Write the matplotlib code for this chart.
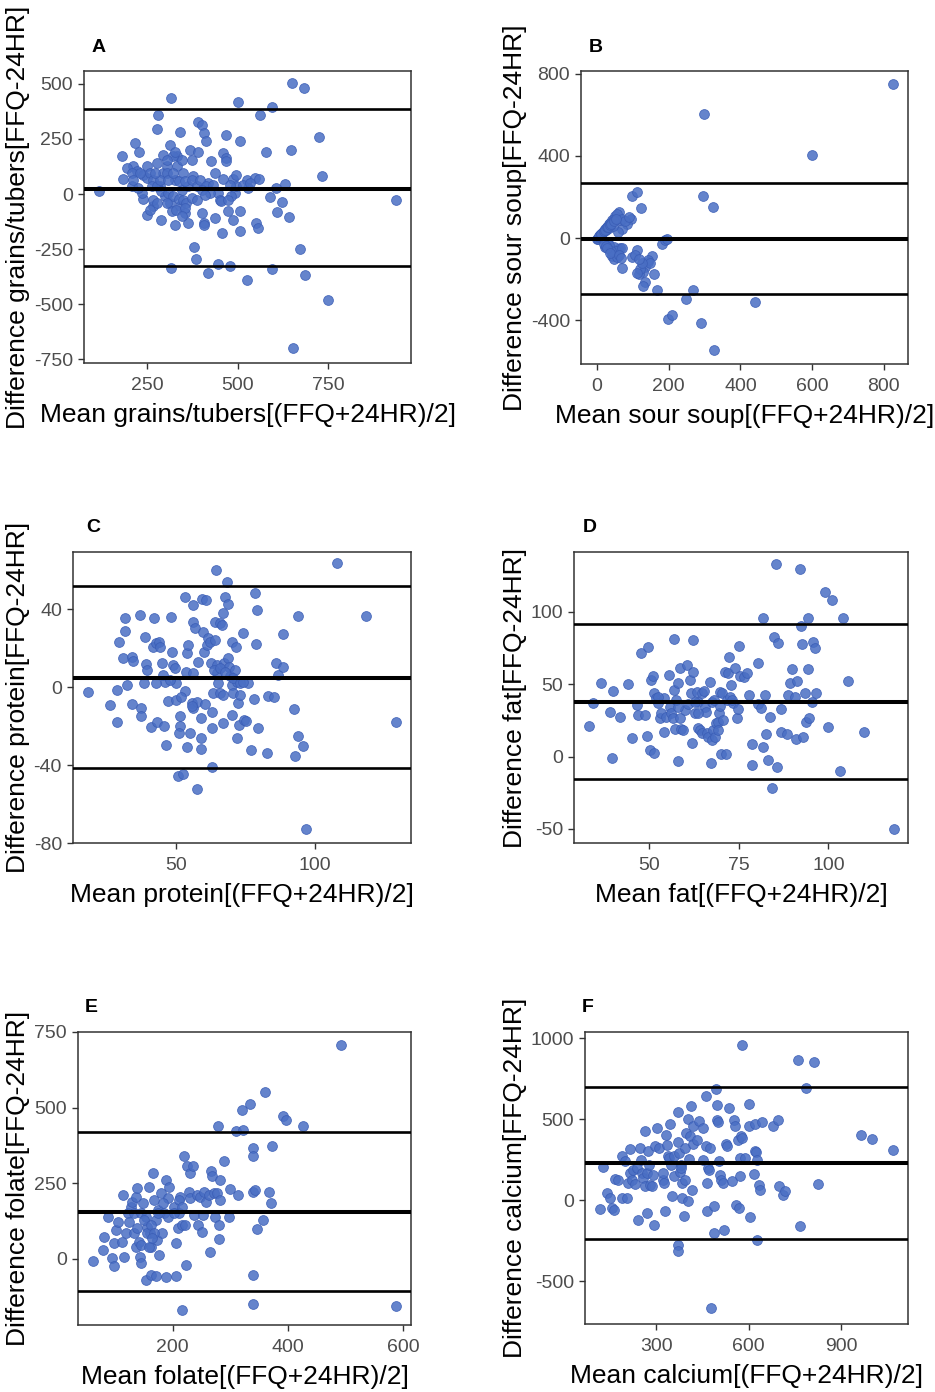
import numpy as np
import matplotlib
matplotlib.use("Agg")
import matplotlib.pyplot as plt

plt.rcParams['font.family'] = ['Liberation Sans', 'DejaVu Sans']
plt.rcParams['axes.unicode_minus'] = False

# ---- A: grains/tubers ----
a_x = [118, 180, 185, 217, 229, 212, 222, 240, 249, 208, 240, 249, 267, 277, 277, 281, 290, 295,
       314, 316, 316, 326, 341, 333, 333, 328, 295, 304, 286, 300, 314, 341, 355, 346, 364, 368,
       373, 378, 392, 403, 406, 412, 390, 364, 380, 386, 401, 406, 407, 419, 419, 428, 437, 446,
       446, 451, 455, 460, 467, 469, 467, 460, 458, 474, 478, 488, 488, 492, 497, 502, 506, 506,
       508, 525, 529, 525, 548, 552, 557, 560, 563, 579, 589, 596, 596, 606, 610, 624, 630, 643,
       647, 651, 654, 672, 683, 686, 725, 734, 750, 937,
       194, 208, 231, 249, 258, 267, 263, 277, 286, 304, 309, 323, 337, 350, 355, 373, 387, 396,
       414, 433, 290, 309, 323, 337, 350, 359, 373, 387, 304, 318, 331, 355, 346, 267, 277, 258,
       235, 226, 212, 497, 515, 534, 478, 483, 474, 423, 401, 410, 437, 323, 346, 304, 328, 272]
a_y = [12, 171, 69, 231, 189, 125, 103, 88, 72, 35, -23, -94, -56, 140, 295, 360, -119, 178,
       224, 435, -335, -143, 284, 171, 125, 65, 95, 125, 35, -11, -41, -56, -86, 20, 35, 201,
       155, 80, 329, 314, 276, 239, 193, -131, -240, -294, -86, -131, -139, 50, -358, 148, -109, 5,
       -317, -26, -33, 186, 163, 269, 148, 69, -177, -79, -328, -116, 69, 5, 88, 420, 239, -79,
       -169, 65, 27, -393, 72, -131, -154, 68, 360, 190, -15, 397, -340, 27, -83, -38, 45, -104,
       201, 503, -702, -249, 480, -366, 257, 83, -482, -26,
       118, 95, 95, 125, 95, 65, 35, 35, 65, 95, 65, 95, 57, 95, 57, 65, 35, 65,
       35, 42, 12, 5, -11, -23, -26, -41, -18, -26, -41, -79, -71, -63, -101, -26, -41, -71,
       5, 27, 65, 35, 42, 50, 42, -11, -26, 5, 20, -3, 95, 171, 155, 155, 193, 95]
a_loa = [386, 23, -327]

# ---- B: sour soup ----
b_x = [826, 298, 600, 296, 323, 442, 325, 289, 268, 248, 167, 158, 153, 142, 135, 128, 116, 135,
       128, 112, 98, 70, 98, 112, 123, 95, 84, 70, 59, 60, 51, 42, 33, 23, 14, 5, 0, 9, 19, 28,
       37, 46, 56, 23, 31, 42, 51, 59, 65, 46, 56, 181, 190, 195, 198, 209, 142, 149, 121, 112,
       126, 63, 70, 79, 88, 3, 7, 16, 25, 34, 44, 46, 54, 70, 33,
       2, 4, 6, 10, 12, 18, 21, 27, 30, 36, 40, 48, 53, 20, 26, 38, 27, 36, 62, 66, 105, 118]
b_y = [751, 602, 403, 204, 152, -311, -544, -414, -253, -298, -253, -175, -87, -115, -139, -164, -172, -212,
       -233, -58, -91, -147, 204, 225, 149, 95, 71, 47, 28, 128, 107, 87, 68, 47, 26, 6, -2, 15, 36, 55,
       74, 95, 117, -42, -23, -87, -74, -55, -50, -99, -91, -26, -10, -6, -395, -374, -107, -123, -152, -168,
       -123, 87, 95, 84, 104, 3, 16, 31, 39, 50, 58, -42, -61, -50, -34,
       -4, 8, 12, 20, 22, 34, 40, 52, 56, 66, 70, 84, 92, -30, -40, -62, -46, -70, -80, -96, -80, -100]
b_loa = [269, -5, -272]

# ---- C: protein ----
c_x = [18.3, 26.1, 28.8, 28.8, 29.5, 31.6, 31.8, 31.0, 32.2, 34.0, 34.3, 34.6, 37.2, 37.6, 37.6, 38.8,
       39.1, 39.6, 38.4, 41.0, 42.2, 41.6, 42.8, 43.2, 44.0, 44.4, 44.9, 45.3, 45.7, 45.9, 46.5, 48.3,
       48.6, 48.9, 47.2, 49.6, 50.0, 50.2, 50.8, 51.4, 51.2, 51.4, 52.7, 53.3, 53.9, 54.5, 53.9, 53.6,
       53.3, 55.1, 55.7, 56.3, 56.0, 56.9, 56.3, 56.3, 57.7, 57.5, 58.1, 59.0, 59.0, 59.0, 59.3, 59.9,
       60.2, 60.9, 61.1, 61.7, 62.3, 62.6, 62.9, 63.3, 62.9, 62.9, 64.1, 64.1, 64.5, 64.7, 64.9, 65.3,
       65.9, 66.5, 65.9, 67.1, 67.4, 66.9, 66.9, 67.7, 68.3, 68.9, 68.9, 69.3, 69.5, 70.1, 70.1, 70.5,
       70.1, 71.7, 71.3, 71.9, 71.9, 72.5, 72.9, 73.1, 74.3, 74.6, 75.3, 76.1, 77.0, 78.0, 78.6, 79.0,
       79.4, 79.8, 82.8, 83.1, 85.4, 86.2, 86.7, 88.6, 88.6, 92.5, 93.0, 94.2, 94.2, 96.0, 97.0, 108.1,
       118.7, 129.5, 63.7, 65.9, 67.7, 70.7, 73.1, 74.3, 60.5, 55.7, 52.0, 47.8, 43.0]
c_y = [-2.6, -9.0, -17.9, -1.4, 23.4, 35.3, 28.8, 14.8, 1.2, -8.5, 15.7, 13.5, 37.0, -10.7, -15.0, 25.6,
       11.9, 8.9, 2.0, -20.6, 35.7, 20.8, 22.5, -18.1, 23.4, 20.8, 12.6, 6.3, -19.8, 2.9, -29.5, 36.2,
       18.3, 11.4, -7.3, 9.7, -6.5, 2.0, -45.7, -20.1, -23.5, -14.7, -44.4, 46.4, 17.4, 21.7, -30.9, 8.0,
       -2.2, -23.5, -8.2, 42.1, 33.6, 30.2, -10.7, 7.2, -52.5, -7.8, 13.1, -26.1, -31.7, -15.9, 45.5, 28.5,
       18.3, 44.7, 21.7, 25.1, 23.4, 12.3, -12.5, -3.1, -41.1, -21.0, 24.2, 33.6, 60.1, 11.4, 7.2, 2.4,
       32.8, 31.9, -3.1, 38.2, 12.3, -3.9, -18.4, 46.4, 54.1, 42.5, 14.8, 10.6, 5.5, 23.4, 1.2, -3.1,
       -14.2, 20.8, 8.9, 2.9, -26.1, -8.2, -19.3, -3.9, 28.0, -16.7, -17.6, 2.4, -32.4, -6.0, 48.5, 22.0,
       39.6, -21.0, -33.8, -4.4, -4.8, 12.3, 6.3, 10.6, 27.3, -11.3, -35.5, 36.5, -25.3, -30.0, -73.0, 63.5,
       36.5, -18.1, 8.9, 9.7, 8.0, 4.6, 2.0, 2.9, -8.5, -9.9, -4.8, 3.8, 2.0]
c_loa = [51.9, 4.6, -41.5]

# ---- D: fat ----
d_x = [33.2, 34.4, 36.5, 39.1, 39.5, 40.0, 41.8, 44.0, 45.3, 46.6, 46.9, 47.6, 48.8, 49.3, 49.7, 50.2,
       50.5, 51.1, 51.4, 51.4, 51.8, 52.3, 53.0, 53.4, 54.2, 54.2, 54.8, 55.5, 55.8, 56.2, 56.7, 57.0,
       57.0, 57.2, 57.6, 57.9, 58.1, 58.6, 58.8, 58.6, 59.5, 60.0, 60.4, 60.9, 61.4, 61.6, 61.8, 62.1,
       62.3, 62.8, 63.2, 63.5, 63.7, 64.2, 64.6, 64.8, 65.4, 65.5, 65.7, 66.0, 66.5, 66.9, 67.2, 67.4,
       67.6, 67.9, 68.2, 68.5, 69.1, 69.5, 69.7, 69.7, 70.0, 70.4, 70.7, 71.1, 71.4, 71.6, 72.1, 72.3,
       72.5, 72.8, 73.5, 73.9, 74.4, 74.7, 75.0, 75.3, 76.3, 77.2, 77.7, 78.6, 78.8, 80.4, 80.4, 81.2,
       81.8, 81.8, 82.3, 82.7, 83.0, 83.7, 84.2, 84.9, 85.4, 85.6, 86.0, 86.8, 86.8, 88.4, 88.6, 89.3,
       89.9, 90.7, 90.9, 91.1, 92.1, 92.3, 92.5, 93.0, 93.5, 93.6, 94.2, 94.4, 94.6, 95.3, 95.8, 96.3,
       96.5, 99.1, 99.8, 101.0, 103.3, 104.2, 105.4, 109.8, 118.2, 52.5, 62.8, 73.1, 63.7, 58.1, 68.3, 69.2]
d_y = [21.4, 37.2, 51.0, 31.0, -0.7, 45.5, 27.1, 50.1, 12.6, 35.6, 28.7, 71.2, 28.7, 14.2, 75.8, 4.6,
       52.8, 55.6, 2.3, 43.6, 40.2, 36.8, 26.4, 29.9, 17.2, 40.2, 27.6, 56.3, 34.5, 29.9, 26.4, 80.9,
       45.9, 18.8, 39.0, -2.8, 51.0, 26.4, 18.8, 60.9, 18.4, 32.2, 63.2, 36.3, 52.8, 43.6, 9.2, 80.4,
       58.6, 29.9, 44.8, 19.5, 37.9, 18.4, 43.6, 16.1, 45.5, 34.5, 31.0, 16.1, 13.8, 51.7, -4.1, 11.5,
       37.9, 18.4, 39.0, 23.0, 24.1, 29.9, 44.8, 34.9, 1.8, 43.6, 25.3, 58.6, 1.8, 39.0, 57.4, 68.9,
       41.3, 49.4, 36.8, 61.3, 26.4, 32.6, 76.3, 55.6, 55.1, 57.9, 42.5, 8.7, -5.7, 64.8, 36.3, 33.3,
       96.0, 6.9, 42.5, 15.6, -2.3, 27.1, -21.8, 82.7, 133.2, -7.4, 78.6, 32.6, 16.8, 15.4, 42.5, 50.5,
       60.2, 41.3, 11.9, 52.4, 129.8, 90.0, 77.6, 13.8, 43.6, 24.1, 96.0, 60.2, 26.4, 37.9, 79.2, 74.7,
       43.6, 113.7, 20.2, 108.4, -10.3, 96.0, 52.1, 17.2, -50.1, 41.3, 37.9, 39.0, 29.9, 34.5, 13.8, 18.4]
d_loa = [91.4, 37.9, -15.6]

# ---- E: folate ----
e_x = [62.1, 78.9, 81.8, 87.6, 94.5, 98.0, 99.1, 102.0, 106.0, 113.6, 116.4, 111.9, 119.0, 121.9, 124.6,
       127.5, 130.4, 133.2, 133.2, 136.1, 139.0, 139.0, 136.1, 141.9, 143.6, 145.9, 144.8, 149.4, 153.4,
       153.4, 156.3, 159.2, 160.9, 162.1, 163.3, 166.7, 167.9, 170.8, 170.8, 172.5, 174.8, 176.6, 179.4,
       182.3, 185.2, 188.1, 192.0, 188.1, 192.0, 193.8, 201.7, 206.3, 206.3, 208.7, 210.4, 213.3, 216.2,
       216.2, 219.0, 221.9, 223.7, 224.8, 227.7, 229.4, 230.6, 235.0, 237.5, 241.6, 244.5, 247.2, 250.8,
       252.5, 254.8, 258.3, 262.3, 265.2, 266.4, 268.1, 271.0, 273.9, 276.8, 277.9, 279.7, 279.7, 281.4,
       282.6, 288.3, 297.0, 299.9, 310.2, 312.6, 320.1, 321.8, 334.5, 338.9, 338.9, 338.9, 340.2, 340.2,
       343.1, 346.0, 357.6, 360.5, 368.0, 370.3, 372.1, 391.0, 396.9, 425.8, 492.3, 587.3,
       150.6, 156.3, 162.1, 167.9, 144.8, 159.2, 165.0, 175.4, 184.0, 201.7, 210.4, 216.2]
e_y = [-7.7, 28.7, 72.9, 137.0, 1.1, -24.3, 50.8, 95.0, 122.6, 211.0, 4.4, 56.3, 84.0, 150.2, 122.6,
       172.3, 188.9, 150.2, 84.0, 205.5, 233.1, 100.5, 39.8, 56.3, 6.6, -15.5, 150.2, 183.4, 139.2,
       -70.7, 106.1, 238.6, 84.0, -54.1, 39.8, 282.8, 194.4, -57.4, 128.1, 61.9, 161.3, 12.2, 216.5,
       84.0, 150.2, 260.7, 139.2, -59.7, 200.0, 238.6, 172.3, -57.4, 50.8, 100.5, 150.2, 205.5, 111.6,
       -170.1, 340.2, 111.6, -21.0, 304.9, 222.0, 282.8, 200.0, 304.9, 144.7, 211.0, 111.6, 205.5, 89.5,
       144.7, 222.0, 188.9, 211.0, 23.2, 288.3, 271.8, 216.5, 139.2, 216.5, 437.5, 111.6, 64.1, 194.4,
       260.7, 321.5, 137.0, 229.8, 420.9, 211.0, 490.5, 424.2, 511.5, -54.1, -150.2, 365.7, 338.0, 222.0,
       227.6, 97.2, 128.1, 550.1, 222.0, 185.6, 371.2, 472.8, 459.6, 439.7, 708.1, -156.9,
       128.1, 84.0, 111.6, 84.0, 45.3, 39.8, 67.4, 150.2, 183.4, 150.2, 194.4, 172.3]
e_loa = [417.6, 153.6, -107.2]

# ---- F: calcium ----
f_x = [118, 129, 140, 151, 156, 164, 167, 178, 189, 189, 199, 205, 210, 216, 216, 221, 226, 231, 237,
       242, 248, 250, 253, 258, 264, 264, 269, 272, 275, 278, 280, 286, 291, 294, 297, 303, 310, 321,
       324, 327, 330, 332, 337, 339, 342, 345, 348, 351, 357, 359, 370, 371, 371, 372, 374, 377, 380,
       382, 384, 384, 390, 393, 395, 398, 403, 405, 408, 411, 414, 416, 419, 421, 432, 440, 451, 452,
       461, 463, 465, 466, 468, 472, 475, 477, 489, 489, 495, 498, 498, 500, 505, 507, 510, 517, 522,
       527, 531, 536, 547, 554, 557, 559, 567, 570, 573, 573, 575, 579, 580, 590, 601, 601, 606, 617,
       621, 621, 626, 624, 627, 634, 636, 645, 679, 695, 698, 711, 717, 762, 768, 787, 813, 827, 966,
       1000, 1070]
f_y = [-53, 206, 45, 14, -49, -58, 132, 128, 272, 14, 241, 14, 107, 169, 317, 128, 189, 103, 200,
       -119, 323, 251, 169, 138, 426, 86, -78, 169, 302, 220, 97, 86, 158, -150, 333, 447, 323, 128,
       169, 107, -68, 405, 344, 276, 261, 473, 220, 29, 276, 148, -274, -315, 543, 358, 292, 173, 220,
       200, 107, 14, -99, 128, 323, 416, -6, 502, 255, 395, 580, 66, 350, 457, 370, 488, 447, 251,
       337, 642, 107, -64, 200, 189, 323, -665, -37, -202, 687, 591, 498, 481, 241, 158, 128, 107, -185,
       350, 333, 570, 117, 498, 457, -27, 374, -47, 148, 261, 395, 961, 385, 261, 457, 597, -103, 165,
       473, 302, -243, 296, 251, 97, 62, 481, 461, 498, 86, 35, 56, 864, -156, 693, 854, 103, 405,
       379, 309]
f_loa = [699.6, 230.5, -238.7]

panels = [
    ('A', a_x, a_y, a_loa, 'grains/tubers', [250, 500, 750], [-750, -500, -250, 0, 250, 500]),
    ('B', b_x, b_y, b_loa, 'sour soup', [0, 200, 400, 600, 800], [-400, 0, 400, 800]),
    ('C', c_x, c_y, c_loa, 'protein', [50, 100], [-80, -40, 0, 40]),
    ('D', d_x, d_y, d_loa, 'fat', [50, 75, 100], [-50, 0, 50, 100]),
    ('E', e_x, e_y, e_loa, 'folate', [200, 400, 600], [0, 250, 500, 750]),
    ('F', f_x, f_y, f_loa, 'calcium', [300, 600, 900], [-500, 0, 500, 1000]),
]

# pixel boxes (left, right, top, bottom) and axis limits
W, H = 935, 1392
boxes = [(84, 411, 71, 363), (581, 908, 71, 364),
         (73, 411, 552, 843), (574, 908, 552, 843),
         (78, 411, 1032, 1325), (585, 908, 1032, 1324)]
xlims = [(76, 979), (-45, 868), (12.9, 134.8), (29.0, 122.2), (36.1, 613.3), (69.3, 1117.7)]
ylims = [(-768, 559), (-612, 813), (-79.8, 69.4), (-59.7, 141.3), (-219.8, 750), (-763, 1039)]
ylab_x = [30, 527, 30, 527, 30, 527]
letter_pos = [(92, 47), (589, 47), (86, 527), (583, 527), (85, 1008), (582, 1008)]

fig = plt.figure(figsize=(W / 100, H / 100), dpi=100)

for i, (lab, xs, ys, loa, name, xt, yt) in enumerate(panels):
    l, r, t, b = boxes[i]
    ax = fig.add_axes([l / W, 1 - b / H, (r - l) / W, (b - t) / H])
    ax.scatter(xs, ys, s=50, c='#4A6FC4', edgecolors='#3A5DB5', linewidths=0.6, alpha=0.85, zorder=2)
    ax.axhline(loa[0], color='black', lw=1.9, zorder=3)
    ax.axhline(loa[1], color='black', lw=2.9, zorder=3)
    ax.axhline(loa[2], color='black', lw=1.9, zorder=3)
    ax.set_xlim(*xlims[i])
    ax.set_ylim(*ylims[i])
    ax.set_xticks(xt)
    ax.set_yticks(yt)
    ax.tick_params(labelsize=14, labelcolor='#4D4D4D', color='#333333', length=4, width=1, pad=4)
    ax.tick_params(axis='x', pad=6)
    for sp in ax.spines.values():
        sp.set_color('#333333')
        sp.set_linewidth(1.1)
    ax.set_xlabel('Mean ' + name + '[(FFQ+24HR)/2]', fontsize=19)
    ax.set_ylabel('Difference ' + name + '[FFQ-24HR]', fontsize=19)
    ax.xaxis.set_label_coords(0.5, -40 / (b - t))
    ax.yaxis.set_label_coords((ylab_x[i] - l) / (r - l), 0.5)
    fig.text(letter_pos[i][0] / W, 1 - letter_pos[i][1] / H, lab, fontsize=14, fontweight='bold',
             ha='left', va='center')

fig.savefig('out.png', dpi=100)
